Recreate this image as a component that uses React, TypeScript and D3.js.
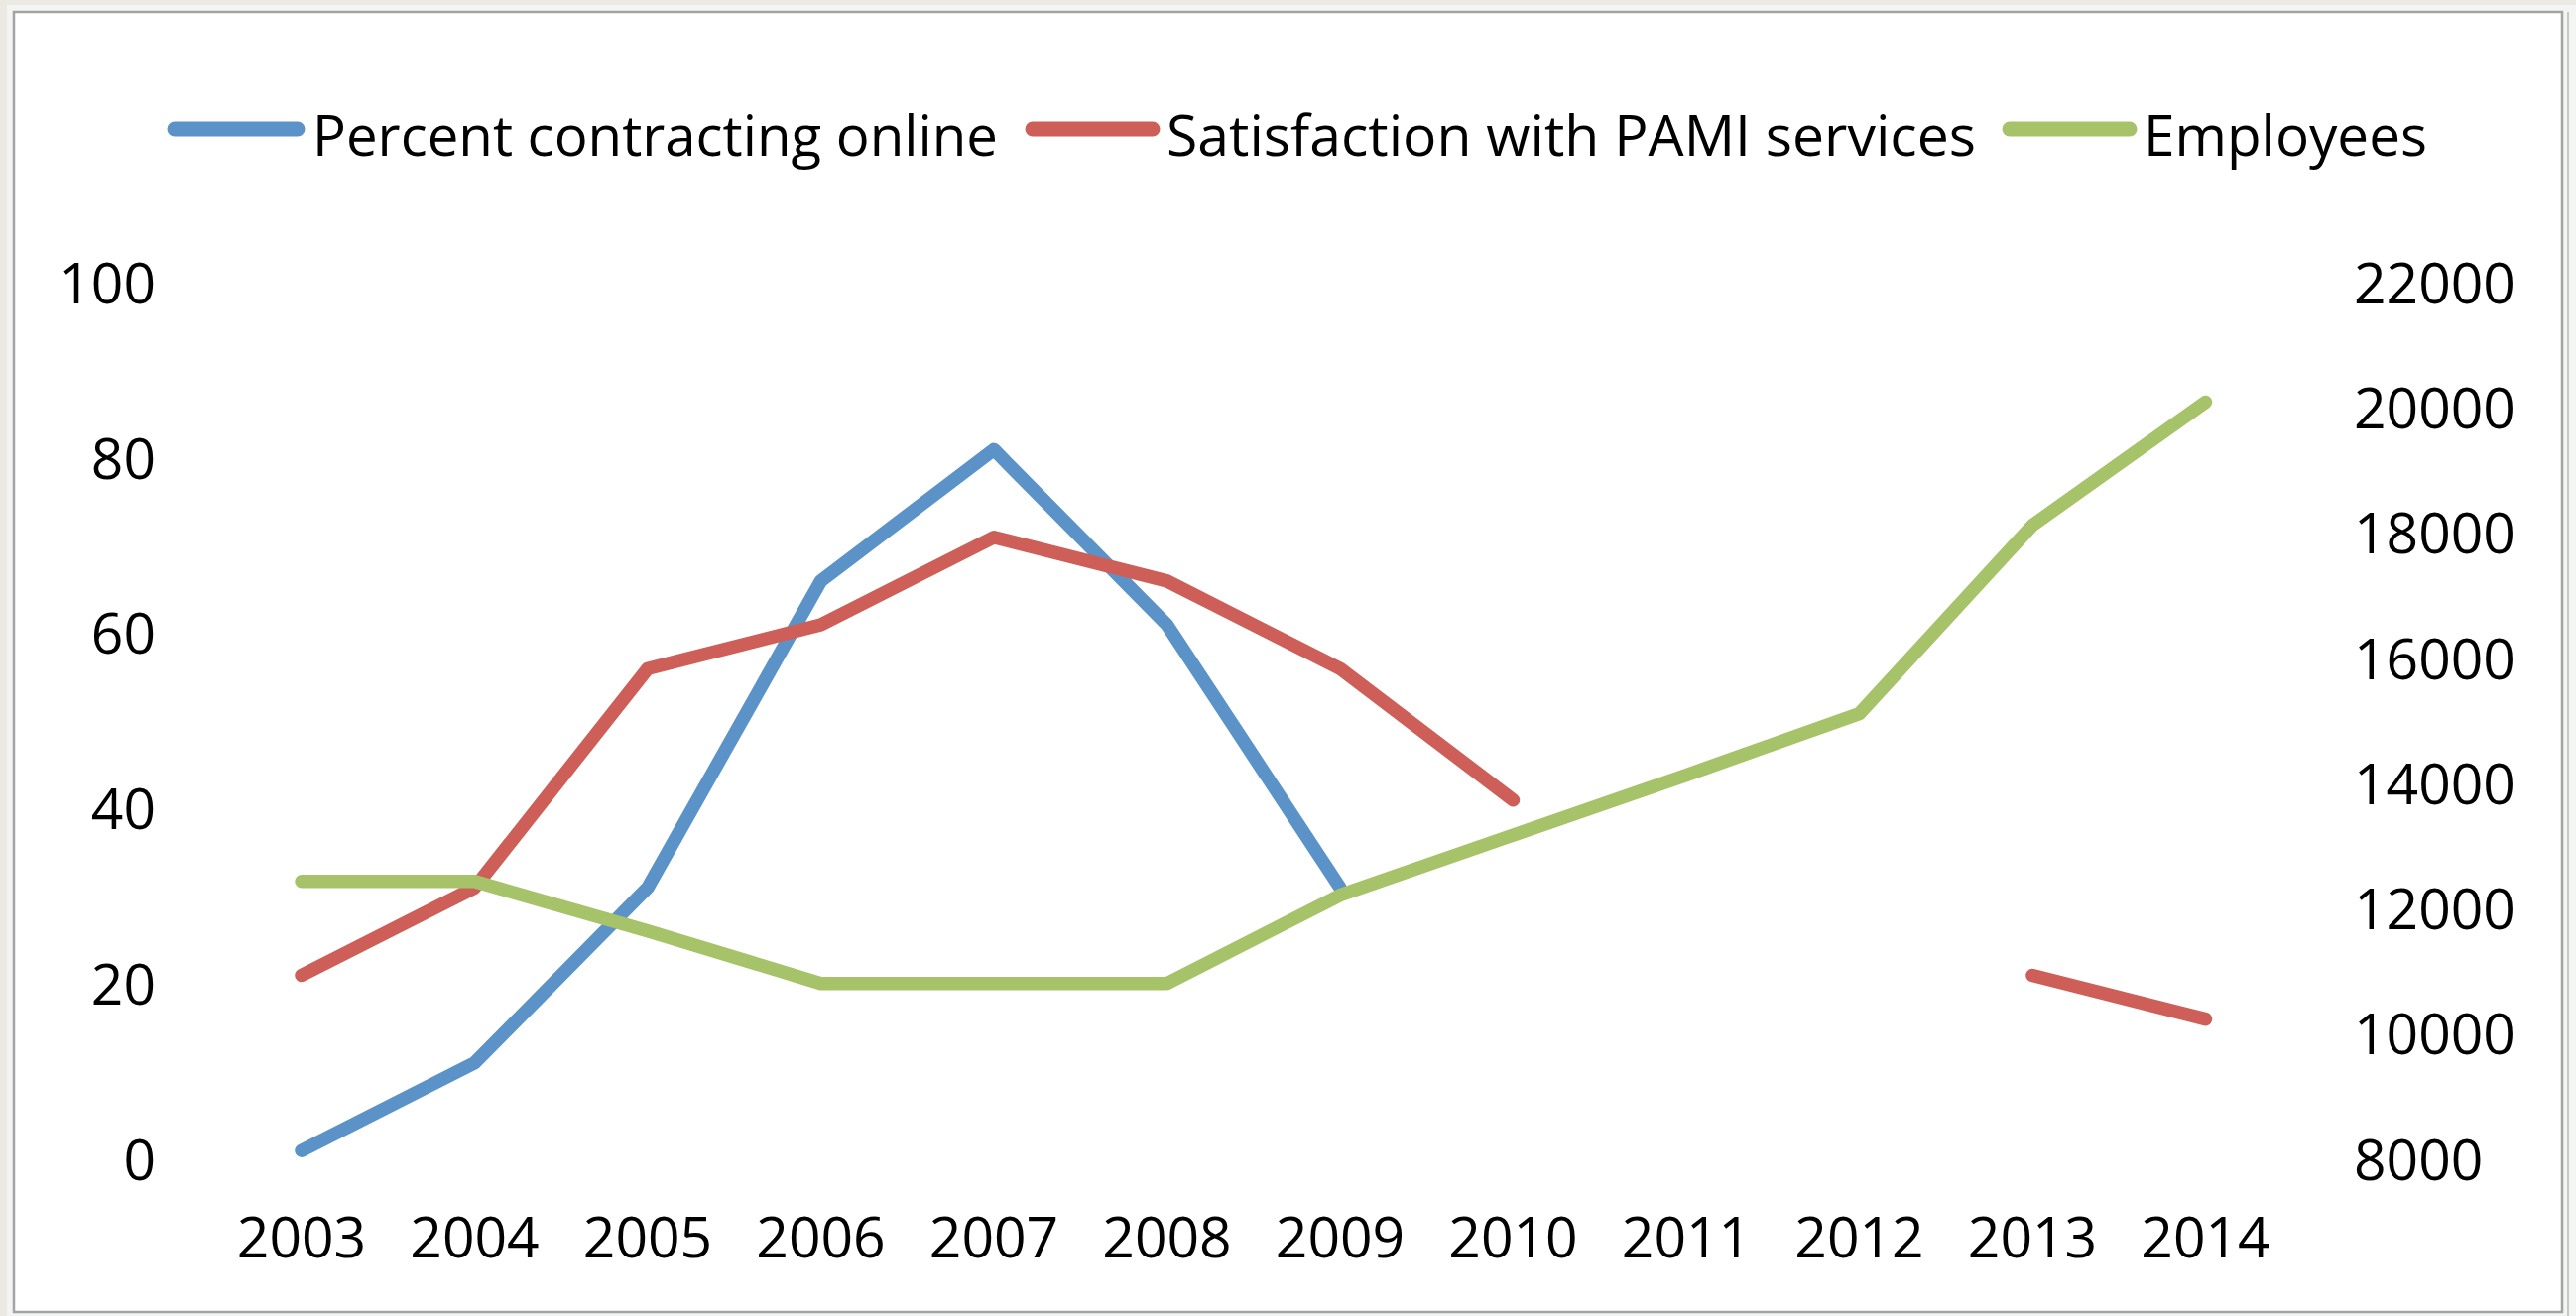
import React from "react";
import * as d3 from "d3";

const years = ["2003", "2004", "2005", "2006", "2007", "2008", "2009", "2010", "2011", "2012", "2013", "2014"];
const percentOnline: (number | null)[] = [1, 11, 31, 66, 81, 61, 31, null, null, null, null, null];
const satisfaction: (number | null)[] = [21, 31, 56, 61, 71, 66, 56, 41, null, null, 21, 16];
const employees: (number | null)[] = [12440, 12440, 11650, 10810, 10810, 10810, 12220, 13180, 14140, 15120, 18130, 20100];
const leftTicks = [0, 20, 40, 60, 80, 100];
const rightTicks = [8000, 10000, 12000, 14000, 16000, 18000, 20000, 22000];

const seriesNames = ["Percent contracting online", "Satisfaction with PAMI services", "Employees"];
const colors = ["#5B93C9", "#CD5F58", "#A7C36A"];

const W = 2597;
const H = 1327;
const FONT = "'Open Sans', 'Liberation Sans', sans-serif";
const FS = 57;

export default function App() {
  const x = d3.scalePoint<string>().domain(years).range([304, 2223.5]);
  const yL = d3.scaleLinear().domain([0, 100]).range([1169, 285.5]);
  const yR = d3.scaleLinear().domain([8000, 22000]).range([1169, 285.5]);

  const mkLine = (scale: d3.ScaleLinear<number, number>) =>
    d3
      .line<number | null>()
      .defined((d) => d !== null)
      .x((_, i) => x(years[i]) as number)
      .y((d) => scale(d as number));

  const lineL = mkLine(yL);
  const lineR = mkLine(yR);

  const legend = [
    { name: seriesNames[0], color: colors[0], x1: 176, x2: 300, tx: 315, tl: 691 },
    { name: seriesNames[1], color: colors[1], x1: 1041, x2: 1162, tx: 1176, tl: 816 },
    { name: seriesNames[2], color: colors[2], x1: 2026, x2: 2147, tx: 2161, tl: 286 },
  ];

  return (
    <svg
      width={W}
      height={H}
      style={{ position: "absolute", left: 0, top: 0, display: "block" }}
      fontFamily={FONT}
    >
      <rect x={0} y={0} width={W} height={H} fill="#ECE9E2" />
      <rect x={7} y={5} width={W - 7} height={H - 5} fill="#F2F5F4" />
      <rect x={14} y={12} width={2569} height={1311} fill="#FFFFFF" stroke="#A3A3A0" strokeWidth={2.5} />
      <line x1={2589} y1={12} x2={2589} y2={1327} stroke="#C8C8C4" strokeWidth={2} />

      {/* legend */}
      {legend.map((l) => (
        <g key={l.name}>
          <line x1={l.x1} x2={l.x2} y1={130} y2={130} stroke={l.color} strokeWidth={15} strokeLinecap="round" />
          <text x={l.tx} y={157} fontSize={FS} fill="#000" textLength={l.tl} lengthAdjust="spacingAndGlyphs">
            {l.name}
          </text>
        </g>
      ))}

      {/* left axis labels */}
      {leftTicks.map((t) => (
        <text key={"l" + t} x={157} y={yL(t) + 20.5} fontSize={FS} textAnchor="end" fill="#000">
          {t}
        </text>
      ))}

      {/* right axis labels */}
      {rightTicks.map((t) => (
        <text key={"r" + t} x={2373} y={yR(t) + 20.5} fontSize={FS} textAnchor="start" fill="#000">
          {t}
        </text>
      ))}

      {/* x labels */}
      {years.map((yr) => (
        <text key={yr} x={x(yr) as number} y={1268} fontSize={FS} textAnchor="middle" fill="#000">
          {yr}
        </text>
      ))}

      {/* series */}
      <path d={lineL(percentOnline) || ""} fill="none" stroke={colors[0]} strokeWidth={13.5} strokeLinecap="round" strokeLinejoin="round" />
      <path d={lineL(satisfaction) || ""} fill="none" stroke={colors[1]} strokeWidth={13.5} strokeLinecap="round" strokeLinejoin="round" />
      <path d={lineR(employees) || ""} fill="none" stroke={colors[2]} strokeWidth={13.5} strokeLinecap="round" strokeLinejoin="round" />
    </svg>
  );
}
